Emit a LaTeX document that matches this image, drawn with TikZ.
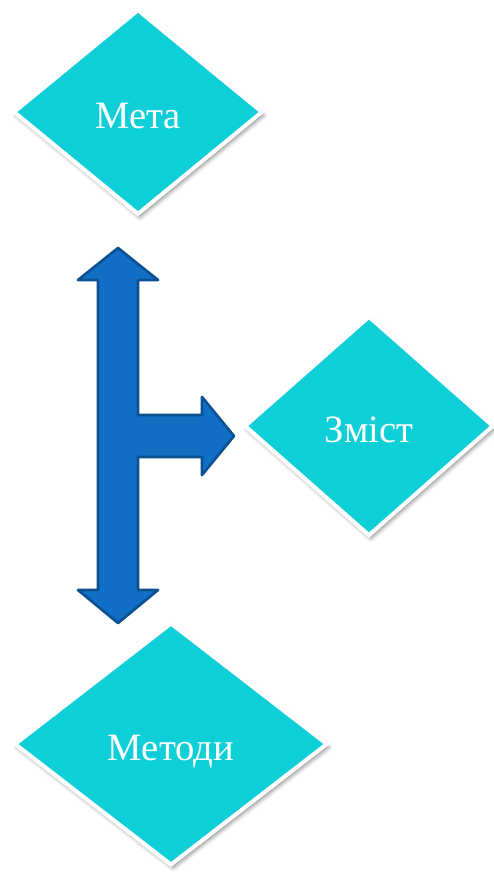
\documentclass[tikz,border=0pt]{standalone}
\usepackage{fontspec}
\setmainfont{Liberation Serif}
\usepackage{tikz}
\usetikzlibrary{shapes.geometric,shadows.blur}
\definecolor{biruza}{RGB}{14,207,216}
\definecolor{strilka}{RGB}{17,112,198}
\definecolor{kontur}{RGB}{12,80,148}
\tikzset{
  romb/.style={diamond,inner sep=0pt,fill=biruza,draw=white,line width=3pt,
    text=white,font=\fontsize{29}{33}\selectfont,text height=25pt,text depth=0pt,
    blur shadow={shadow xshift=1.5pt,shadow yshift=-2.5pt,shadow blur radius=3pt,shadow opacity=45}}
}
\begin{document}
\begin{tikzpicture}[x=0.75pt,y=0.75pt,yscale=-1,xscale=1]
\useasboundingbox (0,0) rectangle (493,878);
% three diamonds
\node [romb,minimum width=187pt,minimum height=154pt] (meta) at (138,112) {Мета};
\node [romb,minimum width=187pt,minimum height=165pt] (zmist) at (369,426) {Зміст};
\node [romb,minimum width=235pt,minimum height=182pt] (metody) at (171,744) {Методи};
% branching arrow
\draw [fill=strilka,draw=kontur,line width=2pt,line join=round] (118,248) -- (158,280) -- (138,280) -- (138,415) -- (202,415) -- (202,397) -- (234,436) -- (202,475) -- (202,457) -- (138,457) -- (138,590) -- (158,590) -- (118,623) -- (78,590) -- (98,590) -- (98,280) -- (78,280) -- cycle ;
\end{tikzpicture}
\end{document}
